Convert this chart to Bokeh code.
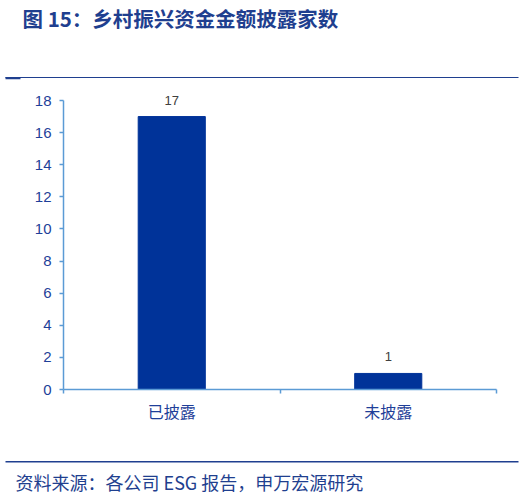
from bokeh.plotting import figure
from bokeh.layouts import column
from bokeh.models import ColumnDataSource, LabelSet, Label, FixedTicker, Range1d
from bokeh.core.properties import value
from bokeh.embed import file_html
from bokeh.resources import INLINE

categories = ["已披露", "未披露"]
counts = [17, 1]
y_ticks = [0, 2, 4, 6, 8, 10, 12, 14, 16, 18]
y_axis_max = 18

title_text = "图 15：乡村振兴资金金额披露家数"
source_text = "资料来源：各公司 ESG 报告，申万宏源研究"

W = 522
H_HEAD, H_MAIN, H_FOOT = 80, 372, 42
AXIS_C = "#5B9BD5"
BAR_C = "#003399"
TXT_C = "#1F3F99"
NAVY = "#1F3F8F"

# pixel layout of the main frame (window coordinates)
AX_TOP_PX, AX_BOT_PX = 100, 389
FRAME_TOP_PX = H_HEAD
y_range_end = y_axis_max * (AX_BOT_PX - FRAME_TOP_PX) / (AX_BOT_PX - AX_TOP_PX)


def deco_fig(h):
    f = figure(width=W, height=h, output_backend="svg", toolbar_location=None,
               x_range=Range1d(0, W), y_range=Range1d(h, 0),
               x_axis_type=None, y_axis_type=None, frame_align=False,
               min_border=0, min_border_left=0, min_border_right=0, min_border_top=0, min_border_bottom=0)
    f.outline_line_color = None
    f.grid.visible = False
    f.background_fill_color = "white"
    f.border_fill_color = "white"
    return f


# header: title + rule
head = deco_fig(H_HEAD)
head.add_layout(Label(x=22, y=17, text=title_text, text_font="Noto Sans CJK SC",
                      text_font_style="bold", text_font_size="20.5px", text_color=NAVY,
                      text_baseline="middle"))
head.quad(left=[5], right=[518], top=[76.5], bottom=[77.5], fill_color=NAVY, line_color=None)
head.quad(left=[5], right=[20], top=[76.5], bottom=[78.7], fill_color=NAVY, line_color=None)

# main chart
xpos = [i + 0.5 for i in range(len(categories))]
src = ColumnDataSource(dict(x=xpos, y=counts, lab=[str(c) for c in counts]))

p = figure(width=W, height=H_MAIN, output_backend="svg", toolbar_location=None,
           x_range=Range1d(0, len(categories)), y_range=Range1d(0, y_range_end), frame_align=False,
           min_border_left=63, min_border_right=W - 496, min_border_top=0,
           min_border_bottom=H_HEAD + H_MAIN - AX_BOT_PX)
p.outline_line_color = None
p.grid.visible = False
p.background_fill_color = "white"
p.border_fill_color = "white"

p.vbar(x="x", top="y", width=0.31, bottom=0, source=src, fill_color=BAR_C, line_color=BAR_C)

p.add_layout(LabelSet(x="x", y="y", text="lab", source=src, y_offset=12, text_align="center",
                      text_baseline="bottom", text_color="#404040", text_font_size="13px",
                      text_font=value("Liberation Sans")))

ya = p.yaxis[0]
ya.ticker = FixedTicker(ticks=y_ticks)
ya.bounds = (0, y_axis_max)
ya.axis_line_color = AXIS_C
ya.axis_line_width = 1.5
ya.major_tick_line_color = AXIS_C
ya.major_tick_line_width = 1.5
ya.major_tick_out = 4
ya.major_tick_in = 0
ya.minor_tick_line_color = None
ya.major_label_text_color = TXT_C
ya.major_label_text_font = "Liberation Sans"
ya.major_label_text_font_size = "15px"
ya.major_label_standoff = 8

xa = p.xaxis[0]
xa.ticker = FixedTicker(ticks=xpos, minor_ticks=list(range(len(categories) + 1)))
xa.major_label_overrides = {x: c for x, c in zip(xpos, categories)}
xa.axis_line_color = AXIS_C
xa.axis_line_width = 1.5
xa.major_tick_line_color = None
xa.major_tick_out = 0
xa.major_tick_in = 0
xa.minor_tick_line_color = AXIS_C
xa.minor_tick_line_width = 1.5
xa.minor_tick_out = 4
xa.minor_tick_in = 0
xa.major_label_text_color = TXT_C
xa.major_label_text_font = "Noto Sans CJK SC"
xa.major_label_text_font_size = "16px"
xa.major_label_standoff = 5

# footer: rule + source
foot = deco_fig(H_FOOT)
foot.quad(left=[5], right=[518], top=[8.5], bottom=[10], fill_color=NAVY, line_color=None)
foot.add_layout(Label(x=15, y=29, text=source_text, text_font="Noto Sans CJK SC",
                      text_font_size="18px", text_color=NAVY, text_baseline="middle"))

layout = column(head, p, foot, spacing=0)
open("out.html", "w").write(file_html(layout, INLINE))
